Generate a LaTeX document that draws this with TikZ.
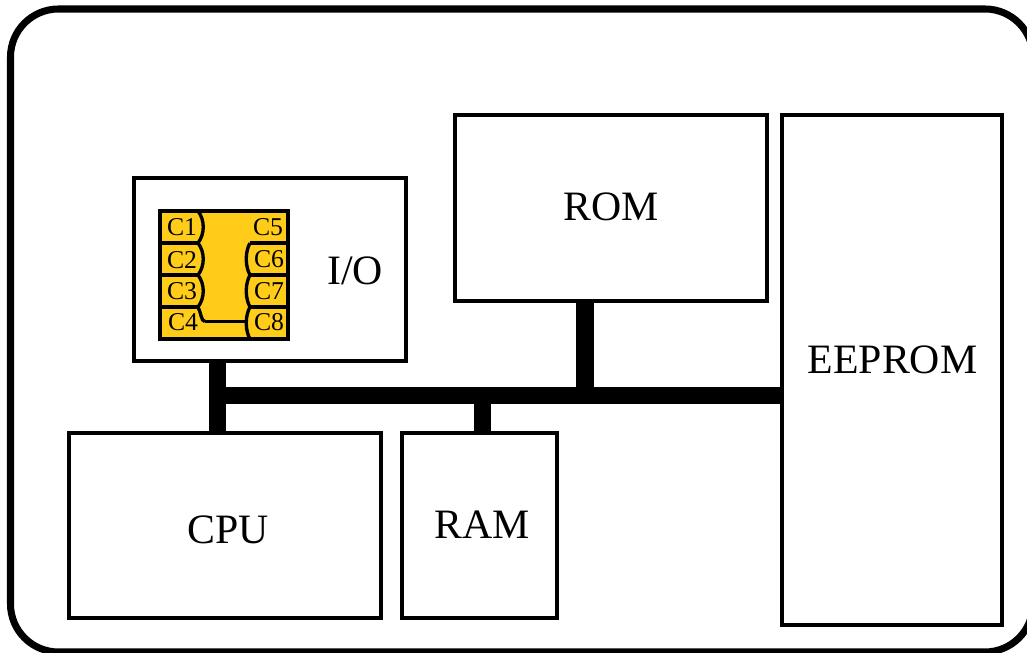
\documentclass[tikz,border=0pt]{standalone}
\usepackage{fontspec}
\setmainfont{Liberation Serif}
\definecolor{chipyellow}{HTML}{FFCC1A}
\tikzset{
  box/.style={draw, line width=0.92pt, inner sep=0pt},
  frame/.style={box, line width=2pt, rounded corners=0.48cm},
  bus/.style={line width=4.85pt},
  pin/.style={line width=0.95pt},
  lbl/.style={inner sep=0pt, font=\fontsize{11.9}{14}\selectfont},
  pinlbl/.style={inner sep=0pt, font=\fontsize{7.3}{8}\selectfont},
}
\begin{document}
\begin{tikzpicture}
  \useasboundingbox (0,0) rectangle (10.27,-6.53);
  \node [frame, minimum width=10.225cm, minimum height=6.43cm] (card) at (5.2175,-3.305) {};
  \node [box, minimum width=2.72cm, minimum height=1.83cm] (io) at (2.70,-2.695) {};
  \node [box, minimum width=3.12cm, minimum height=1.86cm] (rom) at (6.11,-2.08) {};
  \node [box, minimum width=2.20cm, minimum height=5.10cm] (eeprom) at (8.92,-3.70) {};
  \node [box, minimum width=3.12cm, minimum height=1.85cm] (cpu) at (2.25,-5.255) {};
  \node [box, minimum width=1.55cm, minimum height=1.85cm] (ram) at (4.795,-5.255) {};
  \node [lbl] (iolbl) at (3.55,-2.71) {I/O};
  \node [lbl] (romlbl) at (6.11,-2.07) {ROM};
  \node [lbl] (eepromlbl) at (8.925,-3.60) {EEPROM};
  \node [lbl] (cpulbl) at (2.28,-5.30) {CPU};
  \node [lbl] (ramlbl) at (4.82,-5.25) {RAM};
  % bus
  \coordinate (busio) at (2.175,-3.955);
  \coordinate (busram) at (4.825,-3.955);
  \coordinate (busrom) at (5.85,-3.955);
  \draw [bus] (busio |- io.south) -- (busio |- cpu.north);
  \draw [bus] (busio) -- (busio -| eeprom.west);
  \draw [bus] (busram) -- (busram |- ram.north);
  \draw [bus] (busrom) -- (busrom |- rom.south);
  % chip
  \node [box, fill=chipyellow, minimum width=1.28cm, minimum height=1.28cm] (chip) at (2.24,-2.75) {};
  \coordinate (a0) at (1.98,-2.11);
  \coordinate (a1) at (1.98,-2.43);
  \coordinate (a2) at (1.98,-2.75);
  \coordinate (a3) at (1.98,-3.07);
  \coordinate (b1) at (2.50,-2.43);
  \coordinate (b2) at (2.50,-2.75);
  \coordinate (b3) at (2.50,-3.07);
  \coordinate (b4) at (2.50,-3.39);
  \coordinate (c4) at (2.05,-3.215);
  \coordinate (c8) at (2.47,-3.215);
  \draw [pin] (chip.west |- a1) -- (a1);
  \draw [pin] (chip.west |- a2) -- (a2);
  \draw [pin] (chip.west |- a3) -- (a3);
  \draw [pin] (chip.east |- b1) -- (b1);
  \draw [pin] (chip.east |- b2) -- (b2);
  \draw [pin] (chip.east |- b3) -- (b3);
  \draw [pin] (a0) .. controls (2.05,-2.20) and (2.05,-2.34) .. (a1);
  \draw [pin] (a1) .. controls (2.05,-2.52) and (2.05,-2.66) .. (a2);
  \draw [pin] (a2) .. controls (2.05,-2.84) and (2.05,-2.98) .. (a3);
  \draw [pin] (a3) .. controls (2.01,-3.12) and (2.01,-3.215) .. (c4);
  \draw [pin] (c4) -- (c8);
  \draw [pin] (b1) .. controls (2.45,-2.52) and (2.45,-2.66) .. (b2);
  \draw [pin] (b2) .. controls (2.45,-2.84) and (2.45,-2.98) .. (b3);
  \draw [pin] (b3) .. controls (2.45,-3.16) and (2.45,-3.30) .. (b4);
  \node [pinlbl] (c1lbl) at (1.82,-2.275) {C1};
  \node [pinlbl] (c2lbl) at (1.82,-2.60) {C2};
  \node [pinlbl] (c3lbl) at (1.82,-2.91) {C3};
  \node [pinlbl] (c4lbl) at (1.83,-3.22) {C4};
  \node [pinlbl] (c5lbl) at (2.68,-2.275) {C5};
  \node [pinlbl] (c6lbl) at (2.69,-2.59) {C6};
  \node [pinlbl] (c7lbl) at (2.69,-2.91) {C7};
  \node [pinlbl] (c8lbl) at (2.69,-3.22) {C8};
\end{tikzpicture}
\end{document}
